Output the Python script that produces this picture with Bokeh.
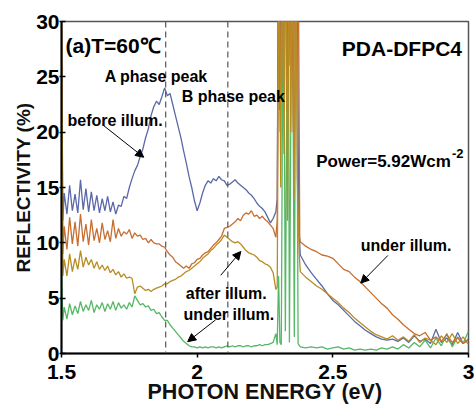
from bokeh.plotting import figure
from bokeh.models import Span, Label, Arrow, NormalHead, FixedTicker, Range1d
from bokeh.embed import file_html
from bokeh.resources import INLINE

# ---------------- data ----------------
reg_e = [1.50, 1.505] + [round(1.51 + 0.01 * i, 2) for i in range(79)]  # 1.51 .. 2.29

blue_reg = [31, 12,
    14.5, 12.6, 15.2, 12.9, 14.4, 12.7, 15.7, 13.0, 14.9, 12.8,
    14.6, 12.9, 14.3, 12.7, 14.0, 12.9, 14.2, 12.8, 13.7, 12.6,
    13.4, 13.3, 14.2, 14.0, 15.0, 15.8, 16.5, 17.0, 17.8, 18.5,
    19.5, 20.3, 21.5, 22.3, 22.8, 22.5, 23.2, 24.0, 23.3, 23.5,
    22.5, 21.5, 20.5, 19.5, 18.3, 17.2, 16.0, 15.0, 13.8, 12.9,
    13.6, 14.5, 15.2, 15.6, 15.4, 15.8, 15.6, 16.0, 15.7, 15.6,
    15.2, 15.3, 15.5, 15.7, 15.4, 15.2, 15.0, 14.8, 14.5, 14.3,
    14.0, 13.6, 13.3, 13.1, 12.8, 12.3, 11.8, 12.2, 12.8]
orange_reg = [31, 9,
    11.5, 9.4, 12.3, 9.9, 11.9, 9.7, 12.6, 10.1, 11.7, 9.8,
    12.1, 10.2, 11.3, 10.0, 11.8, 10.3, 11.1, 10.1, 12.1, 10.4,
    11.3, 10.6, 11.0, 10.8, 11.2, 10.4, 10.9, 10.6, 10.7, 10.3,
    10.4, 10.0, 10.3, 10.0, 9.9, 9.9, 9.7, 9.6, 9.2, 8.9,
    8.7, 8.3, 8.1, 7.9, 7.7, 7.9, 7.7, 8.1, 8.2, 8.5,
    8.6, 8.9, 9.1, 9.2, 9.5, 9.8, 10.0, 10.3, 10.6, 11.3,
    11.4, 11.5, 11.7, 11.9, 12.2, 12.0, 12.5, 12.7, 12.6, 12.9,
    12.4, 12.5, 12.2, 12.4, 12.1, 11.9, 11.6, 11.3, 10.5]
gold_reg = [31, 7,
    8.5, 7.0, 9.0, 7.4, 8.6, 7.6, 9.3, 7.8, 8.7, 8.0,
    8.5, 7.7, 8.3, 7.6, 8.0, 7.5, 7.9, 7.3, 7.6, 7.1,
    7.4, 6.9, 7.2, 6.8, 6.9, 6.8, 5.4, 6.0, 6.1, 5.9,
    5.7, 5.8, 5.6, 5.8, 5.9, 6.0, 6.1, 6.3, 6.3, 6.5,
    6.6, 6.7, 6.9, 7.0, 7.2, 7.4, 7.5, 7.7, 7.9, 8.1,
    8.3, 8.6, 8.8, 9.0, 9.3, 9.5, 9.8, 10.0, 10.3, 10.7,
    10.5, 10.3, 10.1, 10.0, 10.1, 9.9, 9.6, 9.3, 9.1, 9.0,
    8.9, 8.7, 8.4, 8.3, 8.1, 8.0, 7.8, 7.3, 5.8]
green_reg = [7.5, 3.0,
    4.2, 3.1, 4.5, 3.5, 4.3, 3.6, 4.7, 3.8, 4.4, 3.9,
    4.8, 3.7, 4.4, 4.0, 4.6, 3.8, 4.5, 4.0, 4.7, 3.9,
    4.6, 4.1, 4.4, 4.0, 4.6, 4.2, 5.2, 4.8, 4.4, 4.5,
    4.2, 4.3, 3.9, 4.0, 3.6, 3.7, 3.3, 3.0, 3.0, 2.6,
    2.3, 2.0, 1.7, 1.4, 1.1, 0.9, 0.7, 0.6, 0.6, 0.5,
    0.6, 0.5, 0.6, 0.5, 0.6, 0.6, 0.5, 0.6, 0.5, 0.6,
    0.7, 0.6, 0.7, 0.6, 0.7, 0.7, 0.6, 0.7, 0.7, 0.6,
    0.7, 0.7, 0.8, 0.7, 0.8, 0.8, 0.9, 1.0, 1.8]

# sharp lines near 2.3-2.37 eV (clipped above 30 %)
blue_spk_e = [2.295, 2.300, 2.305, 2.310, 2.318, 2.325, 2.333, 2.340, 2.348, 2.355, 2.362, 2.368, 2.374]
blue_spk = [14, 40, 22, 40, 28, 40, 25, 40, 30, 40, 26, 40, 12]
orange_spk_e = [2.295, 2.300, 2.306, 2.312, 2.318, 2.324, 2.330, 2.336, 2.342, 2.348, 2.354, 2.360, 2.366, 2.372, 2.378]
orange_spk = [12, 40, 20, 40, 24, 40, 22, 40, 26, 40, 20, 40, 28, 40, 10.5]
gold_spk_e = [2.295, 2.302, 2.308, 2.314, 2.320, 2.327, 2.333, 2.339, 2.345, 2.351, 2.357, 2.363, 2.369, 2.376]
gold_spk = [6, 40, 15, 40, 18, 40, 12, 40, 20, 40, 14, 40, 16, 9]
green_spk_e = [2.295, 2.300, 2.305, 2.310, 2.318, 2.325, 2.335, 2.340, 2.350, 2.358, 2.365, 2.372, 2.380]
green_spk = [0.8, 7.0, 1.0, 0.8, 40, 2.0, 40, 1.0, 40, 1.5, 40, 0.9, 0.6]

tail_e = [round(2.38 + 0.02 * i, 2) for i in range(32)]  # 2.38 .. 3.00
blue_tail = [8.9, 8.0, 7.3, 6.7, 6.1, 5.4, 4.8, 4.4, 3.9, 3.4, 2.9, 2.5, 2.1, 1.8, 1.5, 1.3,
             1.2, 1.3, 1.1, 1.4, 1.0, 1.6, 1.1, 1.3, 0.9, 2.2, 1.0, 1.4, 0.8, 1.9, 0.9, 1.3]
orange_tail = [10.1, 9.7, 9.4, 9.2, 8.9, 8.8, 8.6, 8.1, 7.6, 7.4, 6.9, 6.5, 6.0, 5.5, 5.0, 4.5,
               4.1, 3.5, 3.1, 2.6, 2.2, 1.8, 1.6, 1.9, 1.2, 1.5, 1.1, 1.7, 1.0, 1.4, 0.9, 1.2]
gold_tail = [7.4, 6.9, 6.5, 6.1, 5.8, 5.4, 5.0, 4.6, 4.1, 3.7, 3.2, 2.8, 2.4, 2.0, 1.7, 1.5,
             1.3, 1.6, 1.2, 1.5, 1.1, 1.7, 1.0, 1.4, 1.2, 0.8, 1.6, 1.0, 1.8, 0.9, 1.5, 0.8]
green_tail = [0.6, 0.5, 0.6, 0.5, 0.6, 0.4, 0.5, 0.6, 0.4, 0.5, 0.3, 0.4, 0.3, 0.4, 0.3, 0.5,
              0.4, 0.6, 0.4, 0.8, 0.5, 1.0, 0.6, 1.2, 0.5, 1.4, 0.7, 1.8, 0.6, 1.5, 0.9, 2.0]

x_ticks = [1.5, 2.0, 2.5, 3.0]
x_tick_labels = ["1.5", "2", "2.5", "3"]
y_ticks = [0, 5, 10, 15, 20, 25, 30]
phase_peaks = [1.884, 2.113]

colors = {"blue": "#5a68a8", "orange": "#c66d30", "gold": "#b88c22", "green": "#55b865"}

FONT = "Liberation Sans"

p = figure(width=474, height=406, output_backend="svg", toolbar_location=None,
           x_range=Range1d(1.5, 3.0), y_range=Range1d(0, 30),
           min_border_left=61, min_border_right=6, min_border_top=21, min_border_bottom=50)

p.background_fill_color = "white"
p.border_fill_color = "white"
p.grid.visible = False
p.outline_line_color = "#555555"
p.outline_line_width = 1.5

def series(e1, v1, e2, v2, e3, v3):
    return list(e1) + list(e2) + list(e3), list(v1) + list(v2) + list(v3)

xb, yb = series(reg_e, blue_reg, blue_spk_e, blue_spk, tail_e, blue_tail)
xo, yo = series(reg_e, orange_reg, orange_spk_e, orange_spk, tail_e, orange_tail)
xg, yg = series(reg_e, gold_reg, gold_spk_e, gold_spk, tail_e, gold_tail)
xn, yn = series(reg_e, green_reg, green_spk_e, green_spk, tail_e, green_tail)

p.line(xb, yb, line_color=colors["blue"], line_width=1.3)
p.line(xn, yn, line_color=colors["green"], line_width=1.3)
p.line(xo, yo, line_color=colors["orange"], line_width=1.3)
p.line(xg, yg, line_color=colors["gold"], line_width=1.3)

for loc in phase_peaks:
    p.add_layout(Span(location=loc, dimension="height", line_color="#555555",
                      line_width=1.2, line_dash="6 4"))

# axes
for ax in (p.xaxis[0], p.yaxis[0]):
    ax.axis_line_color = "black"
    ax.axis_line_width = 2
    ax.major_tick_line_color = "black"
    ax.major_tick_line_width = 1.5
    ax.minor_tick_line_color = None
    ax.major_label_text_font = FONT
    ax.major_label_text_font_style = "bold"
    ax.major_label_text_font_size = "21px"
    ax.major_label_text_color = "black"
    ax.axis_label_text_font = FONT
    ax.axis_label_text_font_style = "bold"
    ax.axis_label_text_color = "#111111"

p.xaxis.ticker = FixedTicker(ticks=x_ticks)
p.xaxis.major_label_overrides = {t: l for t, l in zip(x_ticks, x_tick_labels)}
p.xaxis.major_tick_in = 0
p.xaxis.major_tick_out = 4
p.xaxis.major_label_standoff = 7
p.xaxis.axis_label = "PHOTON ENERGY (eV)"
p.xaxis.axis_label_text_font_size = "21.5px"
p.xaxis.axis_label_standoff = -2

p.yaxis.ticker = FixedTicker(ticks=y_ticks)
p.yaxis.major_tick_in = 4
p.yaxis.major_tick_out = 2
p.yaxis.major_label_standoff = 0
p.yaxis.axis_label = "REFLECTIVITY (%)"
p.yaxis.axis_label_text_font_size = "19px"
p.yaxis.axis_label_standoff = -1

def lab(x, y, text, size, align="left", baseline="alphabetic"):
    p.add_layout(Label(x=x, y=y, text=text, text_font=FONT, text_font_style="bold",
                       text_font_size=size, text_color="black", text_align=align,
                       text_baseline=baseline))

lab(1.515, 27.84, "(a)T=60\u2103", "21px")
lab(2.976, 27.57, "PDA-DFPC4", "21px", align="right")
lab(1.659, 25.07, "A phase peak", "16px")
lab(1.943, 23.19, "B phase peak", "16px")
lab(1.522, 21.04, "before illum.", "16px")
lab(2.935, 17.37, "Power=5.92Wcm", "17px", align="right")
lab(2.939, 18.1, "-2", "13px")
lab(2.603, 9.76, "under illum.", "16px")
lab(1.958, 5.46, "after illum.", "16px")
lab(1.950, 3.49, "under illum.", "16px")

arrows = [((1.651, 20.68), (1.803, 17.73)),
          ((2.087, 7.07), (2.161, 9.22)),
          ((2.068, 3.04), (1.965, 1.07)),
          ((2.703, 8.86), (2.603, 6.36))]
for (xs, ys), (xe, ye) in arrows:
    p.add_layout(Arrow(x_start=xs, y_start=ys, x_end=xe, y_end=ye, line_color="black",
                       line_width=1,
                       end=NormalHead(size=8, fill_color="black", line_color="black")))

open("out.html", "w").write(file_html(p, INLINE))
